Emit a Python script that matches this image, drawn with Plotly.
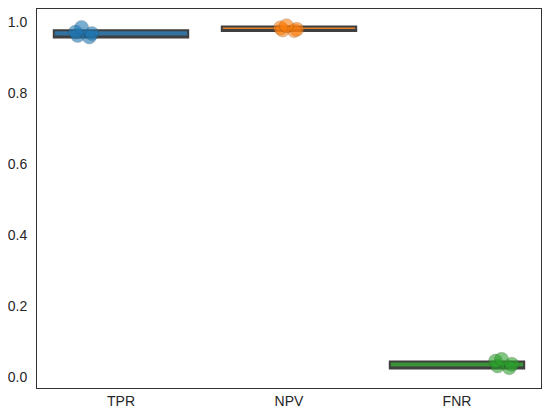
import plotly.graph_objects as go

categories = ["TPR", "NPV", "FNR"]
box_q1 = [0.957, 0.975, 0.024]
box_median = [0.957, 0.975, 0.024]
box_q3 = [0.977, 0.988, 0.044]
box_low = [0.957, 0.975, 0.024]
box_high = [0.977, 0.988, 0.044]

points_tpr = [0.985, 0.972, 0.962, 0.958, 0.968]
points_npv = [0.990, 0.984, 0.976, 0.980, 0.978]
points_fnr = [0.050, 0.045, 0.036, 0.026, 0.031]
points = [points_tpr, points_npv, points_fnr]

box_colors = ["#3274a1", "#e1812c", "#3a923a"]
point_colors = ["#1f77b4", "#ff7f0e", "#2ca02c"]
point_pos = [-0.55, 0.0, 0.7]

fig = go.Figure()
for i, cat in enumerate(categories):
    fig.add_trace(go.Box(
        x=[cat], q1=[box_q1[i]], median=[box_median[i]], q3=[box_q3[i]],
        lowerfence=[box_low[i]], upperfence=[box_high[i]],
        width=0.8, whiskerwidth=0, fillcolor=box_colors[i],
        line=dict(color="#3f3f3f", width=2),
        boxpoints=False, showlegend=False, hoverinfo="skip",
    ))
for i, cat in enumerate(categories):
    fig.add_trace(go.Box(
        x=[cat] * len(points[i]), y=points[i],
        width=0.8, fillcolor="rgba(0,0,0,0)",
        line=dict(color="rgba(0,0,0,0)", width=0),
        boxpoints="all", pointpos=point_pos[i], jitter=0.15,
        marker=dict(color=point_colors[i], size=14, opacity=0.6,
                    line=dict(color="rgba(40,40,40,0.35)", width=0.8)),
        showlegend=False,
    ))

fig.update_layout(
    width=542, height=409,
    margin=dict(l=29, r=9, t=1, b=29, autoexpand=False),
    paper_bgcolor="white", plot_bgcolor="white",
    boxmode="overlay",
    font=dict(family="Liberation Sans, Arial, sans-serif", size=14, color="#262626"),
    xaxis=dict(
        categoryorder="array", categoryarray=categories,
        range=[-0.5, 2.5], showgrid=False, zeroline=False, automargin=False,
        showline=True, linecolor="#333333", linewidth=1, mirror=True,
        ticks="", ticklabelstandoff=0,
    ),
    yaxis=dict(
        range=[-0.031, 1.037], tickvals=[0.0, 0.2, 0.4, 0.6, 0.8, 1.0],
        tickformat=".1f", showgrid=False, zeroline=False, automargin=False,
        showline=True, linecolor="#333333", linewidth=1, mirror=True,
        ticks="", ticklabelstandoff=6,
    ),
)

fig.write_html("out.html")
